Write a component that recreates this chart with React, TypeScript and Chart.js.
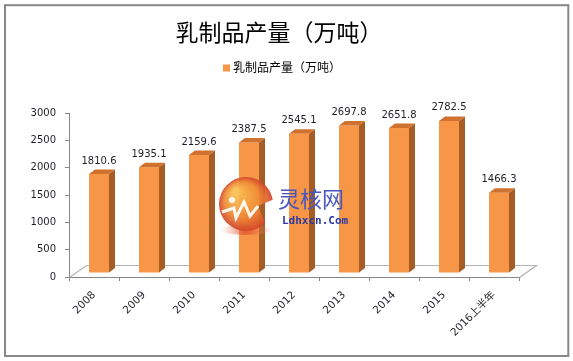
import React, { useEffect, useRef } from 'react';
import { Chart, registerables } from 'chart.js';

Chart.register(...registerables);

const titleText = '乳制品产量（万吨）';
const seriesName = '乳制品产量（万吨）';
const categories = ['2008', '2009', '2010', '2011', '2012', '2013', '2014', '2015', '2016上半年'];
const production = [1810.6, 1935.1, 2159.6, 2387.5, 2545.1, 2697.8, 2651.8, 2782.5, 1466.3];
const yMin = 0;
const yMax = 3000;
const yStep = 500;
const watermarkCn = '灵核网';
const watermarkEn = 'Ldhxcn.Com';

const FRONT = '#F79646';
const TOP = '#D0712E';
const SIDE = '#A65D25';
const AXIS = '#868686';
const FONT = '"DejaVu Sans", "Noto Sans CJK SC", sans-serif';
const CJK = '"Noto Sans CJK SC", sans-serif';

const threeD = {
  id: 'threeD',
  beforeDatasetsDraw(chart: any) {
    const { ctx, chartArea } = chart;
    const { left, right, bottom } = chartArea;
    ctx.save();
    ctx.strokeStyle = '#b2b2b2';
    ctx.lineWidth = 1.2;
    ctx.beginPath();
    ctx.moveTo(left + 0.5, bottom + 0.5);
    ctx.lineTo(left + 17.5, bottom - 11.5);
    ctx.lineTo(right + 17.5, bottom - 11.5);
    ctx.lineTo(right + 0.5, bottom + 0.5);
    ctx.stroke();
    ctx.restore();
  },
  afterDatasetsDraw(chart: any) {
    const { ctx } = chart;
    const meta = chart.getDatasetMeta(0);
    const ox = 5, oy = -4, dx = 6, dy = -4.5;
    ctx.save();
    meta.data.forEach((el: any, i: number) => {
      const { x, y, base, width } = el.getProps(['x', 'y', 'base', 'width'], true);
      const L = x - width / 2 + ox;
      const R = L + width;
      const T = y + oy;
      const B = base + oy;
      ctx.fillStyle = FRONT;
      ctx.fillRect(L, T, width, B - T);
      ctx.fillStyle = SIDE;
      ctx.beginPath();
      ctx.moveTo(R, T);
      ctx.lineTo(R + dx, T + dy);
      ctx.lineTo(R + dx, B + dy);
      ctx.lineTo(R, B);
      ctx.closePath();
      ctx.fill();
      ctx.fillStyle = TOP;
      ctx.beginPath();
      ctx.moveTo(L, T);
      ctx.lineTo(R, T);
      ctx.lineTo(R + dx, T + dy);
      ctx.lineTo(L + dx, T + dy);
      ctx.closePath();
      ctx.fill();
      ctx.fillStyle = '#1e1e2a';
      ctx.font = '10px ' + FONT;
      ctx.textAlign = 'center';
      ctx.textBaseline = 'middle';
      ctx.fillText(String(production[i]), x + 5, y - 17);
    });
    ctx.restore();

    // watermark
    ctx.save();
    ctx.globalAlpha = 0.92;
    const cx = 246, cy = 204, r = 27;
    const sh = ctx.createRadialGradient(cx, cy + 26, 1, cx, cy + 26, 26);
    sh.addColorStop(0, 'rgba(220,70,40,0.8)');
    sh.addColorStop(1, 'rgba(240,150,120,0)');
    ctx.fillStyle = sh;
    ctx.beginPath();
    ctx.ellipse(cx, cy + 26, 26, 5, 0, 0, Math.PI * 2);
    ctx.fill();
    const g = ctx.createRadialGradient(cx - 10, cy - 12, 3, cx, cy, r);
    g.addColorStop(0, '#f8c050');
    g.addColorStop(0.6, '#ef8a35');
    g.addColorStop(1, '#d2452a');
    ctx.fillStyle = g;
    ctx.beginPath();
    ctx.arc(cx, cy, r, 0.25 * Math.PI, 1.95 * Math.PI);
    ctx.lineTo(cx + 12, cy + 2);
    ctx.closePath();
    ctx.fill();
    ctx.strokeStyle = '#ffffff';
    ctx.lineWidth = 3;
    ctx.beginPath();
    ctx.moveTo(cx - 24, cy + 8);
    ctx.lineTo(cx - 12, cy + 4);
    ctx.lineTo(cx - 10, cy + 14);
    ctx.lineTo(cx - 2, cy - 2);
    ctx.lineTo(cx + 4, cy + 12);
    ctx.lineTo(cx + 12, cy + 2);
    ctx.stroke();
    ctx.fillStyle = '#ffffff';
    ctx.beginPath();
    ctx.arc(cx - 14, cy - 4, 3, 0, Math.PI * 2);
    ctx.fill();
    ctx.globalAlpha = 1;
    ctx.fillStyle = '#4656c0';
    ctx.font = '22px ' + CJK;
    ctx.textAlign = 'left';
    ctx.textBaseline = 'middle';
    ctx.fillText(watermarkCn, 278, 199);
    ctx.fillStyle = '#2b3aa0';
    ctx.font = 'bold 11px "DejaVu Sans Mono", monospace';
    ctx.fillText(watermarkEn, 282, 221);
    ctx.restore();
  },
  afterDraw(chart: any) {
    const { ctx } = chart;
    ctx.save();
    // title
    ctx.fillStyle = '#000000';
    ctx.font = '23px ' + CJK;
    ctx.textAlign = 'center';
    ctx.textBaseline = 'middle';
    ctx.fillText(titleText, 279, 32);
    // legend
    ctx.fillStyle = FRONT;
    ctx.fillRect(223, 64.5, 7, 7);
    ctx.fillStyle = '#000000';
    ctx.font = '12px ' + CJK;
    ctx.textAlign = 'left';
    ctx.fillText(seriesName, 233, 67);
    // outer border
    ctx.strokeStyle = '#888888';
    ctx.lineWidth = 2;
    ctx.strokeRect(5, 5.2, 563.3, 350.8);
    ctx.restore();
  },
};

export default function App() {
  const ref = useRef<HTMLCanvasElement | null>(null);
  useEffect(() => {
    document.body.style.margin = '0';
    const canvas = ref.current;
    if (!canvas) return;
    const chart = new Chart(canvas, {
      type: 'bar',
      data: {
        labels: categories,
        datasets: [
          {
            label: seriesName,
            data: production,
            backgroundColor: 'rgba(0,0,0,0)',
            borderWidth: 0,
            barPercentage: 0.4,
            categoryPercentage: 1.0,
          },
        ],
      },
      options: {
        responsive: false,
        devicePixelRatio: 1,
        animation: false,
        layout: { padding: { left: 0, right: 54, top: 113, bottom: 0 } },
        plugins: {
          legend: { display: false },
          tooltip: { enabled: false },
          title: { display: false },
        },
        scales: {
          x: {
            offset: true,
            grid: {
              display: true,
              drawOnChartArea: false,
              drawTicks: true,
              tickLength: 4,
              tickColor: AXIS,
              offset: true,
            },
            border: { display: true, color: AXIS, width: 1 },
            ticks: {
              autoSkip: false,
              minRotation: 45,
              maxRotation: 45,
              padding: 8,
              color: '#1e1e2a',
              font: { family: FONT, size: 10.5 },
            },
            afterFit(scale: any) {
              scale.height = 84;
            },
          },
          y: {
            min: yMin,
            max: yMax,
            grid: {
              display: true,
              drawOnChartArea: false,
              drawTicks: true,
              tickLength: 4,
              tickColor: AXIS,
            },
            border: { display: true, color: AXIS, width: 1 },
            ticks: {
              stepSize: yStep,
              padding: 9,
              color: '#1e1e2a',
              font: { family: FONT, size: 10 },
              callback: (v: any) => String(v),
            },
            afterFit(scale: any) {
              scale.width = 69;
            },
          },
        },
      },
      plugins: [threeD],
    });
    return () => chart.destroy();
  }, []);
  return (
    <div style={{ position: 'absolute', left: 0, top: 0, width: 573, height: 361, background: '#ffffff' }}>
      <canvas ref={ref} width={573} height={361} />
    </div>
  );
}
